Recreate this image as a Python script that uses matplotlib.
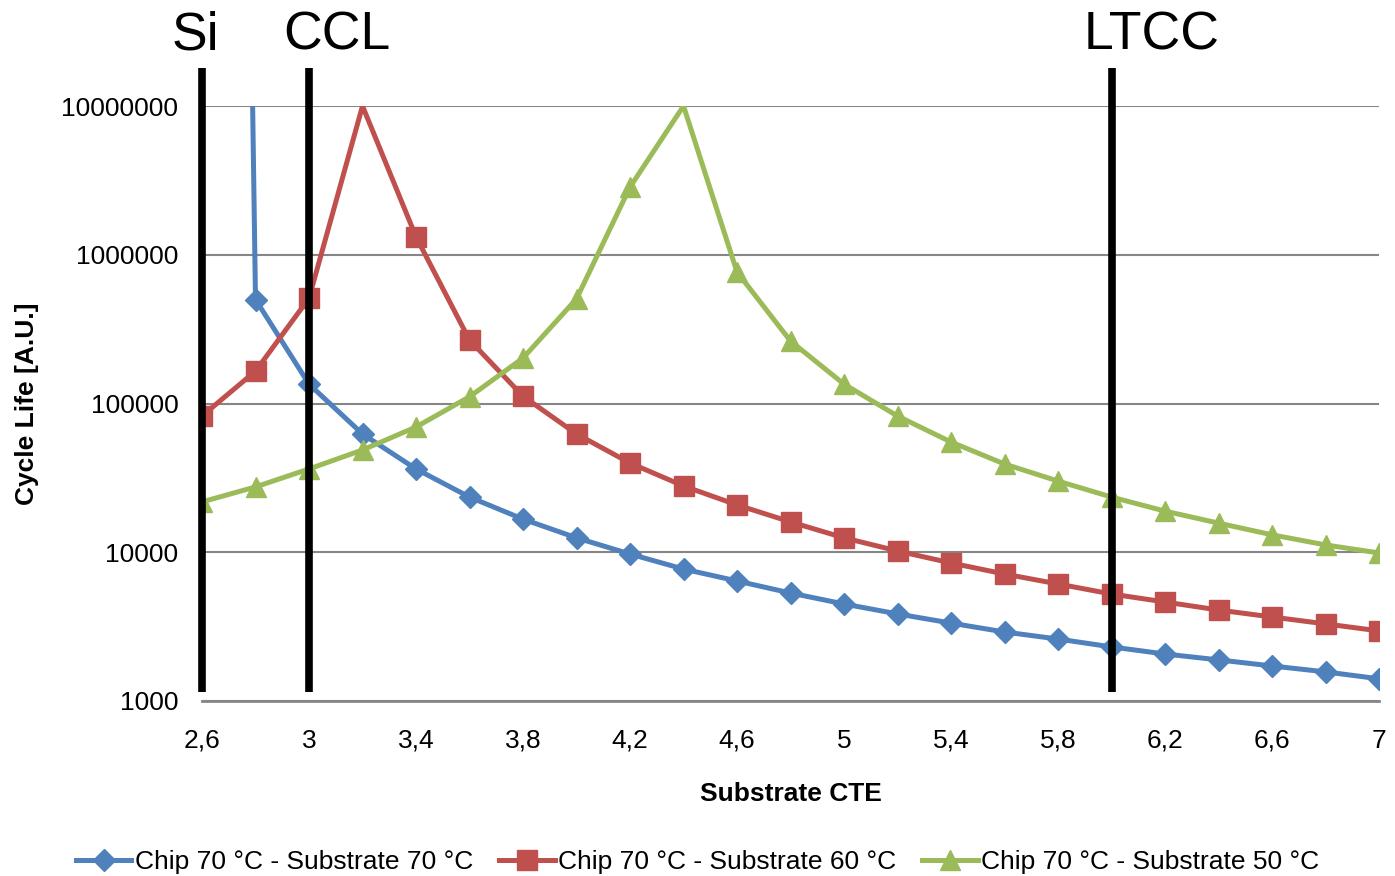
import matplotlib
matplotlib.use("Agg")
import matplotlib.pyplot as plt
import numpy as np

plt.rcParams['font.family'] = ['Liberation Sans', 'DejaVu Sans']

cte = [2.6, 2.8, 3.0, 3.2, 3.4, 3.6, 3.8, 4.0, 4.2, 4.4, 4.6, 4.8, 5.0,
       5.2, 5.4, 5.6, 5.8, 6.0, 6.2, 6.4, 6.6, 6.8, 7.0]

chip70_sub70 = [1e30, 500000, 135000, 62400, 36300, 23500, 16700, 12500, 9730,
                7710, 6410, 5320, 4490, 3850, 3340, 2910, 2610, 2310, 2070,
                1890, 1720, 1570, 1410]
chip70_sub60 = [82400, 165000, 510000, 1.0e7, 1320000, 267000, 112000, 62400,
                39800, 27900, 20800, 16000, 12500, 10200, 8470, 7140, 6120,
                5240, 4630, 4090, 3670, 3300, 2960]
chip70_sub50 = [21800, 27500, 36300, 48700, 69500, 111000, 202000, 505000,
                2850000, 1.0e7, 766000, 263000, 135000, 82400, 55100, 39200,
                30100, 23500, 18900, 15700, 13100, 11200, 9890]

series_names = ["Chip 70 °C - Substrate 70 °C",
                "Chip 70 °C - Substrate 60 °C",
                "Chip 70 °C - Substrate 50 °C"]

x_ticks = [2.6, 3.0, 3.4, 3.8, 4.2, 4.6, 5.0, 5.4, 5.8, 6.2, 6.6, 7.0]
x_tick_labels = ["2,6", "3", "3,4", "3,8", "4,2", "4,6", "5", "5,4", "5,8", "6,2", "6,6", "7"]
y_ticks = [1000, 10000, 100000, 1000000, 10000000]
y_tick_labels = ["1000", "10000", "100000", "1000000", "10000000"]

materials = ["Si", "CCL", "LTCC"]
material_cte = [2.6, 3.0, 6.0]

ymin, ymax = 1000, 1e7

fig = plt.figure(figsize=(13.95, 8.76), dpi=100)
ax = fig.add_axes([202/1395, 1-701/876, (1379-202)/1395, (701-106)/876])

colors = ["#4F81BD", "#C0504D", "#9BBB59"]
markers = ["D", "s", "^"]
msizes = [11, 14, 14]

for vals, name, c, m, ms in zip([chip70_sub70, chip70_sub60, chip70_sub50],
                                series_names, colors, markers, msizes):
    vis = [i for i, v in enumerate(vals) if ymin <= v < ymax]
    ax.plot(cte, vals, color=c, lw=3.6, marker=m, markersize=ms,
            markevery=vis, label=name, zorder=3, solid_joinstyle='miter')

ax.set_yscale('log')
ax.set_ylim(ymin, ymax)
ax.set_xlim(2.6, 7.0)
ax.set_yticks(y_ticks)
ax.set_yticklabels(y_tick_labels)
ax.yaxis.set_minor_locator(matplotlib.ticker.NullLocator())
ax.set_xticks(x_ticks)
ax.set_xticklabels(x_tick_labels)
ax.tick_params(axis='both', length=0, labelsize=19)
ax.tick_params(axis='x', pad=20)
ax.tick_params(axis='y', pad=17)
ax.grid(axis='y', color='#868686', lw=1.5)
ax.set_axisbelow(True)
for s in ['top', 'right', 'left']:
    ax.spines[s].set_visible(False)
ax.spines['bottom'].set_color('#868686')
ax.spines['bottom'].set_linewidth(2)

ax.set_xlabel("Substrate CTE", fontsize=19, fontweight='bold')
ax.set_ylabel("Cycle Life [A.U.]", fontsize=19, fontweight='bold')
ax.xaxis.set_label_coords(0.5, (701-782)/595)
ax.yaxis.set_label_coords((39-202)/1177, 0.5)

# material marker lines
for mat, xv in zip(materials, material_cte):
    ax.plot([xv, xv], [1150, 1.8e7], color='black', lw=5.5, clip_on=False, zorder=4,
            solid_capstyle='butt')

label_x = [195, 337, 1152]
for mat, px in zip(materials, label_x):
    fig.text(px/1395, 1-36/876, mat, fontsize=38.5, ha='center', va='center')

leg = fig.legend(loc='center', bbox_to_anchor=(0.5, 1-862/876), ncol=3, frameon=False,
                 fontsize=19, handlelength=2.1, columnspacing=1.0, handletextpad=0.12)

fig.savefig("out.png", dpi=100)
